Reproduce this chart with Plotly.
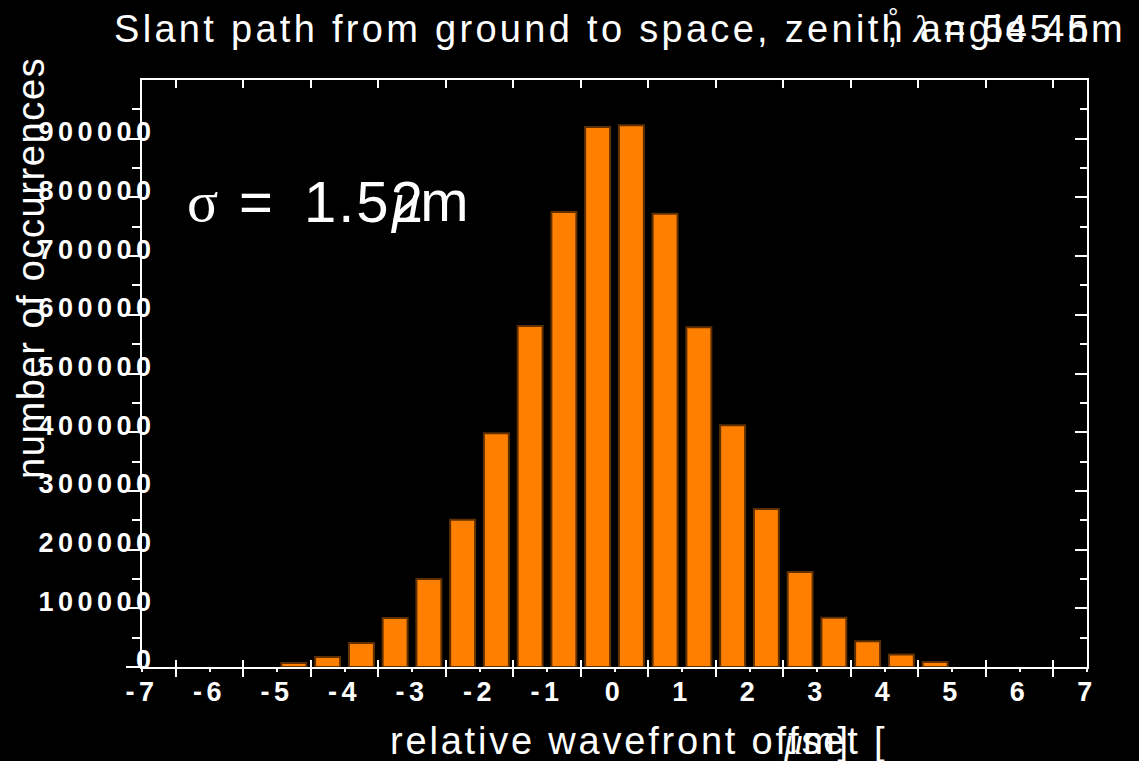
import plotly.graph_objects as go

# Histogram of relative wavefront offsets (bins 0.5 um wide)
bin_centers = [-4.75, -4.25, -3.75, -3.25, -2.75, -2.25, -1.75, -1.25, -0.75, -0.25,
               0.25, 0.75, 1.25, 1.75, 2.25, 2.75, 3.25, 3.75, 4.25, 4.75]
counts = [7000, 17000, 41000, 83500, 150000, 251000, 398000, 581000, 775000, 920000,
          923000, 772000, 579000, 412000, 269000, 162000, 84000, 44000, 21500, 8500]

x_tick_values = [-7, -6, -5, -4, -3, -2, -1, 0, 1, 2, 3, 4, 5, 6, 7]
x_tick_labels = ["-7", "-6", "-5", "-4", "-3", "-2", "-1", "0", "1", "2", "3", "4", "5", "6", "7"]
x_major_marks = [-6.5, -5.5, -4.5, -3.5, -2.5, -1.5, -0.5, 0.5, 1.5, 2.5, 3.5, 4.5, 5.5, 6.5]
y_tick_values = [0, 100000, 200000, 300000, 400000, 500000, 600000, 700000, 800000, 900000]
y_tick_labels = ["0", "100000", "200000", "300000", "400000", "500000",
                 "600000", "700000", "800000", "900000"]
y_minor_marks = [50000, 150000, 250000, 350000, 450000, 550000, 650000, 750000, 850000, 950000]

title_text = "Slant path from ground to space, zenith angle 45"
title_tail = ", λ = 545 nm"
sigma_value = "1.52"
x_title = "relative wavefront offset ["
y_title = "number of occurrences"

W, H = 1139, 761
L, R, T, B = 142, 1087, 80, 667
SANS = "Liberation Sans"
SERIF = "Liberation Serif"


def px(xp):
    return (xp - L) / (R - L)


def py(yp):
    return (B - yp) / (B - T)


def spaced(s, ls):
    return f'<span style="letter-spacing:{ls}px">{s}</span>'


def serif(s, italic=False):
    st = "font-family:Liberation Serif"
    if italic:
        st += ";font-style:italic"
    return f'<span style="{st}">{s}</span>'


fig = go.Figure()
fig.add_trace(go.Bar(
    x=bin_centers, y=counts, width=0.37,
    marker=dict(color="#ff8000", line=dict(color="#5e2f00", width=2)),
    hoverinfo="skip", showlegend=False,
))
# empty traces so the overlay axes (extra tick sets) get drawn
fig.add_trace(go.Scatter(x=[], y=[], xaxis="x2", yaxis="y", showlegend=False))
fig.add_trace(go.Scatter(x=[], y=[], xaxis="x3", yaxis="y", showlegend=False))
fig.add_trace(go.Scatter(x=[], y=[], xaxis="x", yaxis="y2", showlegend=False))

tickfont = dict(family=SANS, size=27, color="white", weight="bold")
xr = [-7, 7]
yr = [0, 1000000]

fig.update_layout(
    width=W, height=H,
    margin=dict(l=L, r=W - R, t=T, b=H - B, autoexpand=False),
    paper_bgcolor="black", plot_bgcolor="black",
    showlegend=False,
    xaxis=dict(
        range=xr, showgrid=False, zeroline=False,
        showline=True, linecolor="white", linewidth=2,
        tickmode="array", tickvals=x_tick_values,
        ticktext=[spaced(t, 4.5) for t in x_tick_labels],
        ticks="outside", ticklen=3, tickwidth=2, tickcolor="white",
        tickfont=tickfont, ticklabelstandoff=-3,
        minor=dict(tickmode="array", tickvals=x_major_marks, ticks="outside",
                   ticklen=8, tickwidth=2, tickcolor="white", showgrid=False),
    ),
    xaxis2=dict(
        range=xr, overlaying="x", anchor="y", side="bottom",
        showgrid=False, zeroline=False, showline=False, showticklabels=False,
        tickmode="array", tickvals=x_major_marks,
        ticks="inside", ticklen=7, tickwidth=2, tickcolor="white",
    ),
    xaxis3=dict(
        range=xr, overlaying="x", anchor="y", side="top",
        showgrid=False, zeroline=False, showline=True, linecolor="white", linewidth=2,
        showticklabels=False,
        tickmode="array", tickvals=x_major_marks,
        ticks="inside", ticklen=8, tickwidth=2, tickcolor="white",
    ),
    yaxis=dict(
        range=yr, showgrid=False, zeroline=False,
        showline=True, linecolor="white", linewidth=2,
        tickmode="array", tickvals=y_tick_values,
        ticktext=[spaced(t, 4.5) for t in y_tick_labels],
        ticks="outside", ticklen=14, tickwidth=2, tickcolor="white",
        tickfont=tickfont, ticklabelstandoff=-35, ticklabelshift=-7,
        minor=dict(tickmode="array", tickvals=y_minor_marks, ticks="outside",
                   ticklen=8, tickwidth=2, tickcolor="white", showgrid=False),
    ),
    yaxis2=dict(
        range=yr, overlaying="y", anchor="x", side="right",
        showgrid=False, zeroline=False, showline=True, linecolor="white", linewidth=2,
        showticklabels=False,
        tickmode="array", tickvals=y_tick_values,
        ticks="inside", ticklen=12, tickwidth=2, tickcolor="white",
        minor=dict(tickmode="array", tickvals=y_minor_marks, ticks="inside",
                   ticklen=7, tickwidth=2, tickcolor="white", showgrid=False),
    ),
)

font_lbl = dict(family=SANS, size=38, color="white")
ann = []
# title, drawn in overlapping pieces
ann.append(dict(text=spaced(title_text, 3.3), x=px(112), y=py(29),
                xanchor="left", yanchor="middle", font=font_lbl))
ann.append(dict(text="°", x=px(886), y=py(17), xanchor="left", yanchor="middle",
                font=dict(family=SANS, size=26, color="white")))
ann.append(dict(text=spaced(", ", 2.8) + serif("λ", italic=True) + spaced(" = 545 nm", 2.8),
                x=px(1127), y=py(29), xanchor="right", yanchor="middle", font=font_lbl))
# axis titles
ann.append(dict(text=spaced(x_title, 2.8), x=px(388), y=py(741),
                xanchor="left", yanchor="middle", font=font_lbl))
ann.append(dict(text=serif("μ", italic=True) + spaced("m]", 2.8), x=px(781), y=py(741),
                xanchor="left", yanchor="middle", font=font_lbl))
ann.append(dict(text=spaced(y_title, 1.6), x=px(31), y=py(268), textangle=-90,
                xanchor="center", yanchor="middle", font=font_lbl))
# sigma label inside the plot
big = dict(family=SANS, size=58, color="white")
ann.append(dict(text="σ", x=px(185), y=py(201), xanchor="left", yanchor="middle",
                font=dict(family=SERIF, size=58, color="white")))
ann.append(dict(text="=", x=px(237), y=py(201), xanchor="left", yanchor="middle", font=big))
ann.append(dict(text=spaced(sigma_value, 2), x=px(302), y=py(201), xanchor="left",
                yanchor="middle", font=big))
ann.append(dict(text=serif("μ", italic=True) + "m", x=px(388), y=py(201), xanchor="left",
                yanchor="middle", font=big))
for a in ann:
    a.update(xref="paper", yref="paper", showarrow=False)
fig.update_layout(annotations=ann)

fig.write_html("out.html")
